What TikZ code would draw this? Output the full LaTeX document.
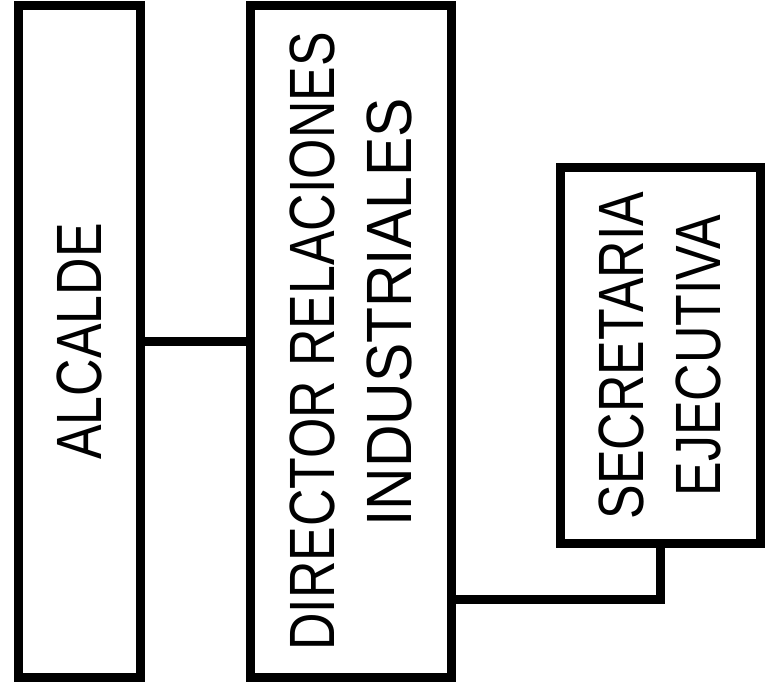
\documentclass[tikz,border=0pt]{standalone}
\usepackage{fontspec}
\newfontfamily\boxfont[FakeStretch=0.81]{Liberation Sans}
\newfontfamily\wideboxfont[FakeStretch=0.92]{Liberation Sans}
\begin{document}
\begin{tikzpicture}[x=1pt, y=-1pt,
    unit/.style={draw, line width=9pt, rotate=90, inner sep=0pt, outer sep=0pt,
      align=center, font=\boxfont\fontsize{64}{77}\selectfont},
    link/.style={line width=9pt}]
    \useasboundingbox (0,0) rectangle (768,687);

    \node[unit, minimum width=671pt, minimum height=122pt] (alcalde) at (79, 341.5) {ALCALDE};
    \node[unit, minimum width=671pt, minimum height=201pt] (director) at (350.5, 341.5)
      {DIRECTOR RELACIONES\\\hspace*{58pt}{\wideboxfont INDUSTRIALES}};
    \node[unit, minimum width=375pt, minimum height=200pt] (secretaria) at (660, 355.5)
      {SECRETARIA\\EJECUTIVA};

    \coordinate (elbow) at (secretaria.west |- 0,599);
    \draw[link] (alcalde.south) -- (director.north);
    \draw[link] (secretaria.west) -- (elbow) -- (elbow -| director.south);
  \end{tikzpicture}
\end{document}
